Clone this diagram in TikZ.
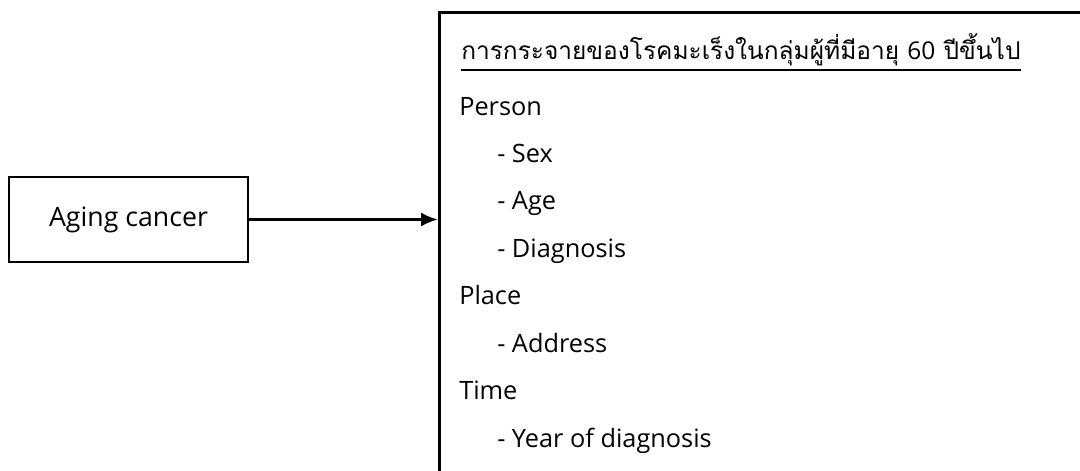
\documentclass[tikz,border=0pt]{standalone}
\usepackage{fontspec}
\setmainfont{Open Sans}
\newfontfamily\thaifont[Script=Thai]{Loma}
\usetikzlibrary{arrows.meta}

\begin{document}
\begin{tikzpicture}[x=0.025cm, y=-0.025cm, >={Latex[length=12pt,width=10pt]},
  box/.style={rectangle, draw, line width=2pt, inner sep=0pt},
  item/.style={anchor=base west, inner sep=0pt, font=\fontsize{18}{20}\selectfont}]
  \useasboundingbox (0,0) rectangle (1080,471);
  \clip (0,0) rectangle (1080,471);

  % Nodes
  \node[box, minimum width=5.975cm, minimum height=2.125cm, font=\fontsize{19}{22}\selectfont] (cancer) at (128.5,219.5) {Aging cancer};
  \node[box, anchor=north west, minimum width=17cm, minimum height=13cm] (frame) at (438,11) {};

  \node[item, font=\thaifont\fontsize{17.4}{20}\selectfont] (head) at (461,60) {การกระจายของโรคมะเร็งในกลุ่มผู้ที่มีอายุ {\rmfamily 60} ปีขึ้นไป};
  \node[item] (person) at (459,116) {Person};
  \node[item] (sex) at (497,163) {- Sex};
  \node[item] (age) at (497,210) {- Age};
  \node[item] (diag) at (497,258) {- Diagnosis};
  \node[item] (place) at (459,305) {Place};
  \node[item] (addr) at (497,353) {- Address};
  \node[item] (time) at (459,400) {Time};
  \node[item] (year) at (497,448) {- Year of diagnosis};

  % Underline of heading
  \draw[line width=1.8pt] ([yshift=-0.25cm]head.base west) -- ([yshift=-0.25cm]head.base east);

  % Edges
  \draw[->, line width=2pt] (cancer.east) -- (cancer.east -| frame.west);
\end{tikzpicture}
\end{document}
